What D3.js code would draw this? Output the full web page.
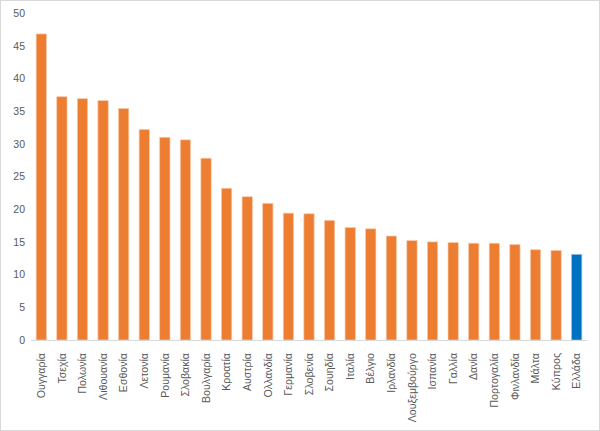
<!DOCTYPE html>
<html><head><meta charset="utf-8">
<script src="https://cdn.jsdelivr.net/npm/d3@7"></script>
<style>
html,body{margin:0;padding:0;background:#fff;}
svg{display:block;}
</style></head>
<body>
<svg id="c" width="600" height="431"></svg>
<script>
const categories = ["Ουγγαρία","Τσεχία","Πολωνία","Λιθουανία","Εσθονία","Λετονία","Ρουμανία","Σλοβακία","Βουλγαρία","Κροατία","Αυστρία","Ολλανδία","Γερμανία","Σλοβενία","Σουηδία","Ιταλία","Βέλγιο","Ιρλανδία","Λουξεμβούργο","Ισπανία","Γαλλία","Δανία","Πορτογαλία","Φινλανδία","Μάλτα","Κύπρος","Ελλάδα"];
const values = [46.8,37.2,36.9,36.6,35.4,32.2,31.0,30.6,27.8,23.2,21.9,20.9,19.4,19.3,18.3,17.2,17.0,15.9,15.2,15.0,14.9,14.8,14.8,14.6,13.8,13.7,13.1];
const highlight = ["Ελλάδα"];
const yTicks = [0,5,10,15,20,25,30,35,40,45,50];

const svg = d3.select("#c");
const W = 600, H = 431;
svg.append("rect").attr("x",0.5).attr("y",0.5).attr("width",W-1).attr("height",H-1)
  .attr("fill","#fff").attr("stroke","#d9d9d9");

const x = d3.scaleBand().domain(categories).range([31,587]).paddingInner(0.5).paddingOuter(0.25);
const y = d3.scaleLinear().domain([0,50]).range([340,13]);

const font = "'Liberation Sans', Arial, sans-serif";

// y axis labels
const ya = svg.append("g").attr("transform","translate(25,0)")
  .call(d3.axisLeft(y).tickValues(yTicks).tickSize(0).tickPadding(0));
ya.select(".domain").remove();
ya.selectAll("text").attr("fill","#595959").style("font-family",font).style("font-size","10.5px");

// bars
svg.append("g").selectAll("rect").data(categories).join("rect")
  .attr("x", d=>x(d))
  .attr("y", (d,i)=>y(values[i]))
  .attr("width", x.bandwidth())
  .attr("height", (d,i)=>y(0)-y(values[i]))
  .attr("fill", d=>highlight.includes(d) ? "#0070c0" : "#ed7d31")
  .attr("stroke", d=>highlight.includes(d) ? "#9dc3e6" : "#f8cbad")
  .attr("stroke-width",0.7);

// x axis
const xa = svg.append("g").attr("transform","translate(0,340)")
  .call(d3.axisBottom(x).tickSize(0).tickPadding(0));
xa.select(".domain").attr("stroke","#d9d9d9").attr("d","M31,0.5H587");
xa.selectAll("text")
  .attr("fill","#595959").style("font-family",font).style("font-size","10.6px")
  .attr("text-anchor","end")
  .attr("dy","0.35em")
  .attr("transform","translate(0,13) rotate(-90)")
  .attr("x",0).attr("y",0);
</script>
</body></html>
